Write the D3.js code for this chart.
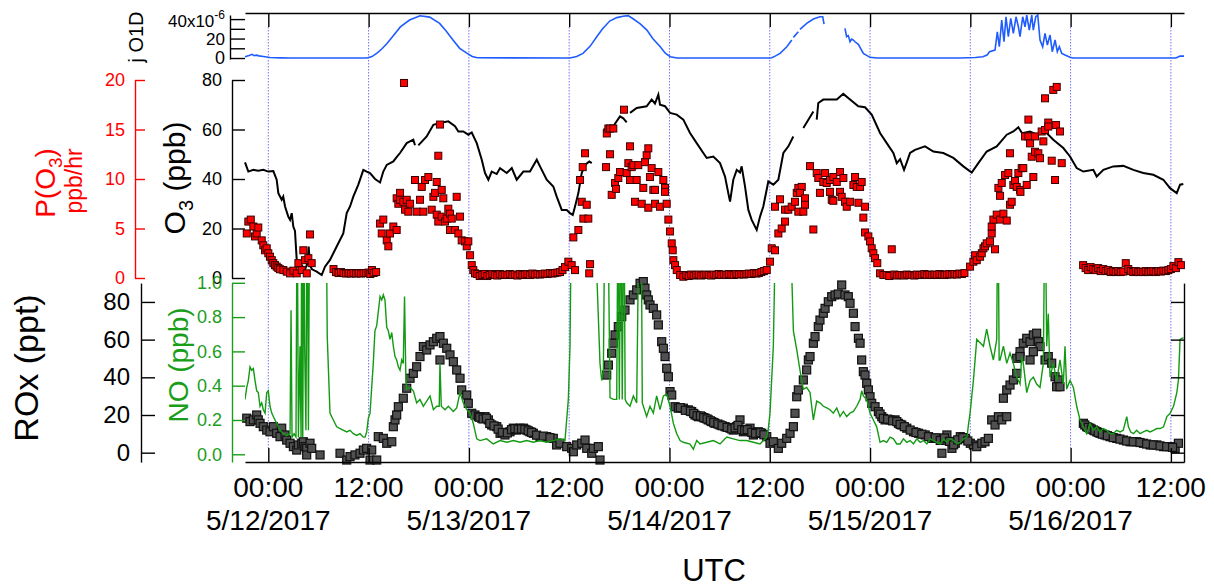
<!DOCTYPE html>
<html>
<head>
<meta charset="utf-8">
<script src="https://cdn.jsdelivr.net/npm/d3@7"></script>
<style>
  body { margin: 0; background: #fff; }
  svg { display: block; }
  text { font-family: "Liberation Sans", Arial, Helvetica, sans-serif; }
</style>
</head>
<body>
<svg id="chart" width="1214" height="587"></svg>
<script>
// Time is given in hours after 5/12/2017 00:00 UTC.

// O(1D) photolysis frequency, units of 1e-6 s-1 (null = missing data)
const jO1D = [
  [-2.79,1.3],[-2.3,2.6],[-1.95,3.8],[-1.7,2.4],[-1.45,3.0],[-1.1,2.2],[-0.6,1.6],[0.2,0.6],[1.5,0.2],[2.6,0],
  [11.8,0],[12.4,1.5],[13.0,5],[13.6,9.5],[14.2,15],[15.0,23.5],[15.8,32],[16.9,39],[18.15,43.4],[19.3,42],
  [20.5,35.6],[21.3,27.5],[22.1,18.5],[22.9,10],[23.8,4.8],[24.4,1.6],[25.0,0.3],[36.1,0],[36.9,1.5],[37.65,4.8],
  [38.5,12],[39.3,21.9],[40.0,30],[40.85,38],[41.7,41.5],[42.45,43],[43.05,43.5],[43.6,40.6],[44.5,35],[45.3,28.7],
  [46.0,20],[46.9,11.6],[47.5,5],[48.1,1.3],[48.9,0],[60.0,0],[60.24,0.3],[60.7,2.2],[61.24,4.8],[62.04,11.6],
  [62.64,18.5],[62.7,null],[62.83,21.2],[63.42,27],[63.5,null],[63.62,29.4],[64.42,35.6],[65.22,40],[66.01,42.4],
  [66.34,42.4],[66.5,34.9],[67.0,null],[69.0,30.4],[69.2,21.9],[69.4,23],[69.61,16.7],[69.8,19.5],[70.01,18.5],
  [70.2,16.7],[70.6,14],[71.2,4.8],[72.0,0.7],[72.8,0],[82.8,0],[84.6,0.5],[85.5,1.3],[86.0,3],[86.3,6.5],
  [86.96,8.2],[87.23,27],[87.47,11.6],[87.76,39],[88.03,16.7],[88.27,42.4],[88.55,21.9],[88.84,40.7],[89.15,25.3],
  [89.47,42.4],[89.75,32.1],[89.95,21.9],[90.27,42.4],[90.55,32.1],[90.75,44.1],[91.06,28.7],[91.35,44.1],
  [91.54,28.7],[91.83,42.4],[92.07,44.1],[92.34,18.5],[92.66,11.6],[92.94,25.3],[93.22,13.3],[93.54,23.6],
  [93.81,6.5],[94.14,18.5],[94.41,6.5],[94.65,11.6],[94.94,4.8],[95.33,3.1],[95.93,0.7],[96.3,0],[108.6,0],
  [109.1,2],[109.57,2]
];

// Ozone mixing ratio, ppb
const ozone = [
  [-2.79,46.7],[-2.39,43],[-1.79,43.7],[-1.2,43.3],[-0.6,43.7],[0,43],[0.6,43.2],[1.0,39.7],[1.2,34.3],[1.6,31.6],
  [1.79,32.9],[2.0,28.9],[2.39,24.8],[2.6,23.5],[2.8,26.2],[2.99,20.8],[3.19,19],[3.4,7.3],[3.59,4.6],[3.91,5.5],
  [4.39,3.5],[4.69,6],[4.83,12.7],[4.99,5],[5.23,3.5],[5.79,2.6],[6.39,1.2],[6.78,4.6],[7.38,7.3],[8.18,12.7],
  [8.97,18],[9.38,26.2],[9.78,28.9],[10.17,32.9],[10.77,37.7],[11.37,43.7],[11.77,43],[12.17,42.4],[12.77,40],
  [13.37,38.6],[13.76,43],[14.17,45.7],[14.96,47.1],[15.4,49],[15.76,50.5],[16.56,54.5],[17.35,55.9],[17.55,53.6],
  [17.75,null],[17.95,53.6],[18.95,57.2],[19.75,61.9],[20.54,62.6],[21.54,63.3],[22.34,61.3],[22.74,59.2],
  [23.33,59.2],[23.93,57.9],[24.34,58.8],[24.94,54.5],[25.54,47.8],[25.93,42.4],[26.33,39.7],[26.73,43],[27.33,42],
  [27.73,44.4],[28.53,42.4],[29.13,44.4],[29.72,39.7],[30.52,43],[31.31,43],[32.12,47.8],[32.51,45.1],[33.31,39.7],
  [34.1,37],[34.51,32.9],[35.11,27.5],[35.71,27.5],[36.1,26.2],[36.43,25.5],[36.7,28.9],[37.1,34.3],[37.5,42.4],
  [37.9,45.7],[38.41,47.1],[38.7,46.4],[39.4,null],[40.09,59.9],[40.69,60.6],[41.28,61.3],[42.08,65.3],[42.48,64.5],
  [42.88,62.9],[43.1,null],[43.28,66.7],[44.08,68.7],[45.27,69.4],[45.87,72.1],[46.27,70.5],[46.67,74.1],[46.87,70],
  [47.47,69.4],[48.07,66.7],[48.87,66],[49.66,64],[50.46,58.6],[51.26,54.5],[52.05,50.5],[52.46,48.5],[53.25,49.1],
  [54.05,46.4],[54.65,41],[55.04,34.3],[55.25,30.9],[55.64,39.7],[56.05,43.7],[56.44,42.6],[56.64,45.1],[57.04,37],
  [57.44,27.5],[57.84,23.5],[58.44,19.4],[58.84,24.8],[59.23,28.9],[59.83,39],[60.43,37.7],[61.03,39.7],
  [61.63,50.5],[62.23,53.2],[62.82,57.2],[63.4,null],[64.02,60.6],[65.22,67.3],[65.4,null],[65.62,64],[65.81,70.7],
  [66.41,72.1],[67.01,72.1],[68.02,72.1],[68.8,74.4],[69.61,72.1],[70.6,69.4],[71.4,69],[72.2,66],[73.2,58.6],
  [74.0,54.5],[74.79,50.5],[75.2,46.4],[75.6,48],[76.07,43.7],[76.43,47],[76.79,50.5],[77.38,51.8],[78.58,53.2],
  [79.58,51.1],[80.77,50.5],[81.97,48.5],[83.17,45.1],[84.17,42.6],[84.96,46.4],[85.96,51.1],[87.16,53.2],
  [88.36,57.9],[89.15,59.2],[89.75,60.9],[90.19,58.5],[91.15,59.2],[91.95,57.9],[93.14,58.6],[93.93,55.9],
  [95.13,52.5],[95.93,49.1],[96.73,44.4],[97.52,43],[98.72,43.7],[99.12,41],[99.92,43.7],[101.11,45.1],
  [102.31,45.3],[103.51,43.7],[104.7,42.4],[105.9,41.7],[107.1,39.7],[107.9,36.3],[108.7,34.3],[109.1,37.7],
  [109.49,38]
];

// Ozone production rate P(O3), ppb/hr
const pO3 = [
  [-2.58,4.5],[-2.39,5.7],[-2.1,5.9],[-1.79,5.2],[-1.59,4.2],[-1.39,4.5],[-1.2,5.1],[-0.79,3.8],[-0.6,3.3],
  [-0.39,2.8],[-0.19,3.0],[0,2.5],[0.2,2.15],[0.41,1.8],[0.6,1.5],[0.8,1.3],[1.0,1.15],[1.2,1.0],[1.4,0.88],
  [1.8,0.8],[2.2,0.64],[2.6,0.47],[3.0,0.74],[3.4,0.47],[3.6,1.5],[4.0,0.8],[4.19,2.8],[4.39,1.8],[4.6,0.47],
  [4.79,2.0],[4.99,4.4],[5.19,1.5],
  [7.8,0.9],[8.1,0.6],[8.4,0.5],[8.7,0.6],[9.0,0.5],[9.3,0.45],[9.6,0.5],[9.9,0.45],[10.2,0.5],[10.5,0.45],
  [10.8,0.5],[11.1,0.45],[11.4,0.5],[11.7,0.5],[12.0,0.55],[12.2,0.4],[12.4,0.8],[12.6,0.5],[12.9,0.6],
  [13.37,5.5],[13.57,4.5],[13.76,5.9],[14.17,3.8],[14.36,3.2],[14.56,4.5],[14.96,5.2],[15.36,4.85],[15.36,8.05],
  [15.56,7.5],[15.76,8.6],[15.76,7.9],[16.15,7.7],[16.24,19.7],[16.36,6.9],[16.56,7.9],[16.75,6.7],[16.96,7.5],
  [17.55,9.9],[17.75,6.7],[18.15,7.9],[18.36,9.2],[18.55,6.7],[18.75,9.9],[19.15,10.2],[19.55,6.9],[19.75,8.2],
  [19.95,8.6],[20.15,9.7],[20.15,6.4],[20.34,12.35],[20.34,5.7],[20.54,15.5],[20.75,8.9],[20.75,6.2],[20.94,8.05],
  [21.14,5.7],[21.35,6.0],[21.54,7.0],[21.74,6.5],[21.74,4.85],[21.95,6.0],[22.34,4.85],[22.54,8.2],[22.74,4.5],
  [22.94,6.2],[23.14,3.8],[23.54,3.7],[23.74,3.2],[23.93,3.7],[24.14,2.3],[24.34,1.3],[24.53,0.8],[24.73,0.47],
  [25.0,0.4],[25.3,0.2],[25.6,0.3],[25.9,0.4],[26.2,0.2],[26.5,0.3],[26.8,0.4],[27.1,0.3],[27.4,0.25],[27.7,0.4],
  [28.0,0.3],[28.3,0.35],[28.6,0.3],[28.9,0.4],[29.2,0.3],[29.5,0.35],[29.8,0.25],[30.1,0.4],[30.4,0.3],
  [30.7,0.35],[31.0,0.4],[31.3,0.3],[31.6,0.45],[31.9,0.35],[32.2,0.4],[32.5,0.35],[32.8,0.4],[33.1,0.45],
  [33.4,0.4],[33.7,0.5],[34.0,0.45],[34.3,0.5],[34.6,0.55],[34.9,0.6],[35.2,0.8],[35.5,1.1],[35.9,1.65],
  [36.3,1.3],[36.7,0.8],
  [36.5,4.1],[37.1,4.85],[37.3,9.9],[37.5,7.7],[37.62,11.2],[37.7,6.0],[37.9,12.6],[38.1,7.4],[38.29,6.0],
  [38.4,0.47],[38.5,1.4],
  [40.41,11.2],[40.5,14.6],[40.69,15.1],[40.89,15.1],[40.89,12.5],[41.09,8.4],[41.28,15.1],[41.49,9.6],[41.6,9.0],
  [41.88,10.1],[42.08,10.7],[42.56,17.0],[42.88,10.6],[43.08,11.6],[43.28,13.3],[43.28,9.9],[43.48,11.2],
  [43.68,11.4],[43.88,7.7],[44.08,9.9],[44.27,11.4],[44.68,7.5],[44.87,9.1],[45.07,11.7],[45.27,12.4],[45.47,13.1],
  [45.47,7.1],[45.67,10.2],[45.87,11.1],[46.07,8.9],[46.27,8.9],[46.27,7.5],[46.67,10.7],[46.87,7.2],[47.27,9.9],
  [47.47,9.1],[47.47,8.7],[47.67,7.5],[47.87,5.9],[48.07,4.7],[48.27,3.5],[48.39,2.8],[48.47,1.8],[48.67,1.3],
  [48.87,0.8],[49.27,0.3],[49.66,0.13],
  [50.0,0.3],[50.3,0.2],[50.6,0.35],[50.9,0.25],[51.2,0.3],[51.5,0.35],[51.8,0.25],[52.1,0.3],[52.4,0.35],
  [52.7,0.3],[53.0,0.25],[53.3,0.35],[53.6,0.3],[53.9,0.4],[54.2,0.3],[54.5,0.35],[54.8,0.3],[55.1,0.4],
  [55.4,0.35],[55.7,0.3],[56.0,0.4],[56.3,0.35],[56.6,0.4],[56.9,0.35],[57.2,0.4],[57.5,0.45],[57.8,0.4],
  [58.1,0.5],[58.4,0.45],[58.7,0.5],[59.0,0.6],[59.3,0.7],
  [59.64,0.8],[60.03,1.65],[60.24,3.0],[60.63,2.8],[61.03,4.5],[61.43,5.0],[61.83,5.7],[60.63,7.2],[61.23,7.95],
  [61.83,6.9],[62.22,6.9],[62.63,7.2],[63.02,7.7],[63.23,8.6],[63.42,9.1],[63.42,6.7],
  [63.83,9.2],[63.62,8.6],[64.22,8.05],[64.22,7.4],[64.02,6.7],[65.22,4.9],[64.82,11.3],[65.62,10.6],[65.81,10.1],
  [66.41,9.7],[66.62,10.6],[66.82,9.6],[67.21,9.9],[67.61,10.2],[68.02,9.7],[68.41,10.7],[68.81,10.1],[66.01,8.6],
  [67.21,8.7],[67.42,7.9],[67.61,7.8],[68.41,8.7],[68.61,8.2],[69.01,7.7],[69.21,7.2],[69.61,7.7],[70.01,9.4],
  [70.21,10.2],[70.41,9.2],[70.81,9.2],[71.0,9.7],[70.61,7.6],[71.4,7.2],[71.2,6.1],
  [71.4,4.6],[71.8,4.2],[72.0,3.7],[72.2,3.0],[72.4,2.5],[72.6,2.0],[72.87,1.5],[73.2,0.47],[73.6,0.3],[74.6,2.9],
  [74.0,0.3],[74.3,0.2],[74.9,0.35],[75.2,0.25],[75.5,0.3],[75.8,0.3],[76.1,0.25],[76.4,0.35],[76.7,0.3],
  [77.0,0.3],[77.3,0.25],[77.6,0.35],[77.9,0.3],[78.2,0.3],[78.5,0.4],[78.8,0.3],[79.1,0.35],[79.4,0.3],
  [79.7,0.35],[80.0,0.3],[80.3,0.4],[80.6,0.35],[80.9,0.3],[81.2,0.35],[81.5,0.4],[81.8,0.35],[82.1,0.4],
  [82.4,0.35],[82.7,0.45],[83.0,0.4],[83.3,0.5],
  [83.97,1.15],[84.37,1.65],[84.57,2.3],[84.77,1.8],[85.17,2.15],[85.37,2.5],[85.57,3.0],[85.76,3.2],[85.96,3.5],
  [86.36,3.7],[86.56,4.5],[86.96,2.9],[86.56,5.2],[86.76,5.9],[87.16,6.4],[87.56,5.9],[87.96,6.5],[88.36,5.8],
  [87.56,8.3],[87.36,9.1],[87.76,9.6],[88.16,10.4],[88.55,10.6],[88.75,7.4],[88.95,7.7],[89.15,9.4],[89.35,9.8],
  [89.55,9.2],[89.75,10.6],[89.95,8.9],[90.15,11.1],[90.34,11.1],[90.75,9.4],[90.0,8.7],[88.75,12.6],[91.54,10.2],
  [90.55,14.3],[90.95,14.3],[91.15,13.6],[91.74,14.3],[91.35,12.25],[91.74,12.75],[92.14,12.6],[92.34,12.1],
  [92.74,13.8],[92.54,14.8],[92.94,14.95],[93.33,15.7],[93.33,15.3],[94.26,15.45],[94.73,14.8],[93.74,11.85],
  [94.94,11.6],[94.14,9.9],[90.95,16.0],[92.94,18.15],[93.93,19.0],[94.34,19.3],
  [97.5,1.3],[97.8,1.0],[98.1,0.8],[98.4,1.1],[98.7,0.9],[99.0,0.8],[99.3,1.0],[99.6,0.7],[99.9,0.9],[100.2,0.7],
  [100.5,0.8],[100.8,0.6],[101.1,0.7],[101.4,0.6],[101.7,0.7],[102.0,0.6],[102.3,0.65],[102.6,1.5],[102.9,0.9],
  [103.2,0.7],[103.5,0.6],[103.8,0.7],[104.1,0.6],[104.4,0.65],[104.7,0.6],[105.0,0.7],[105.3,0.6],[105.6,0.65],
  [105.9,0.7],[106.2,0.6],[106.5,0.7],[106.8,0.65],[107.1,0.75],[107.4,0.7],[107.7,0.8],[108.0,0.9],[108.3,1.2],
  [108.6,1.0],[108.9,1.6],[109.2,1.3]
];

// Total peroxy radicals ROx, ppt
const rox = [
  [-2.58,18.3],[-2.19,16.5],[-1.79,17.4],[-1.39,20.0],[-1.2,17.4],[-0.99,15.6],[-0.6,13.8],[-0.19,12.0],[0.2,11.1],
  [0.6,13.8],[1.0,10.3],[1.4,8.5],[1.6,13.0],[2.0,9.4],[2.2,6.7],[2.6,5.0],[3.0,3.2],[3.4,1.4],[3.59,4.1],[4.0,5.0],
  [4.19,5.8],[4.39,3.2],[4.59,2.3],[4.59,-1.2],[4.99,5.0],[5.19,2.3],[6.19,-1.2],[8.58,-0.3],[9.38,-3.9],
  [9.78,-2.1],[10.37,-1.2],[10.97,-0.3],[11.37,1.4],[11.77,2.3],[12.17,-3.9],[12.37,1.4],[12.97,-3.9],[13.16,8.5],
  [13.76,7.6],[14.17,5.0],[14.77,5.8],[14.96,13.8],[15.16,17.4],[15.36,20.0],[15.56,24.4],
  [16.15,28.9],[16.56,34.2],[16.96,39.5],[17.35,42.1],[17.75,45.6],[18.15,51.0],[18.55,56.3],[18.95,54.5],
  [19.35,57.2],[19.75,58.9],[20.15,60.7],[20.54,61.6],[20.54,49.2],[20.94,58.1],[21.35,55.4],[21.74,51.9],
  [22.14,48.3],[22.54,43.9],[22.94,39.5],[23.14,33.3],[23.74,30.6],[23.93,26.2],[24.34,20.9],[24.73,20.0],
  [25.13,19.1],[25.54,18.3],[25.93,19.1],[26.33,17.4],[26.73,14.7],[27.33,13.8],[27.73,10.3],[28.32,9.4],
  [28.92,11.1],[29.32,13.0],[29.72,12.0],[30.12,13.0],[30.52,13.0],[30.92,12.0],[31.31,11.1],[31.71,10.3],
  [32.51,8.5],[33.31,8.5],[34.1,7.6],[34.5,4.1],[34.9,5.0],[35.7,3.2],[36.3,2.3],[36.5,0.5],[36.9,4.1],[37.5,5.0],
  [37.9,6.7],[38.1,2.3],[38.7,-0.3],[38.89,2.3],[39.49,3.2],[39.69,-3.9],
  [25.3,18.8],[25.7,17.9],[26.1,18.3],[26.5,15.5],[27.0,14.2],[27.5,12.5],[28.0,10.8],[28.6,10.5],[29.1,12.2],
  [29.5,12.8],[29.9,12.5],[30.3,12.6],[30.7,12.4],[31.1,11.6],[31.5,10.8],[32.1,9.3],[32.9,8.8],[33.7,8.0],
  [40.49,41.2],[40.69,46.5],[41.09,52.8],[41.28,58.1],[41.49,62.5],[41.88,66.9],[42.29,72.2],[42.68,75.7],
  [43.28,81.1],[43.68,83.7],[44.08,86.4],[44.48,89.9],[44.87,90.8],[45.07,87.3],[45.27,83.7],[45.47,81.1],
  [45.67,78.4],[46.07,76.6],[46.47,73.1],[46.67,67.8],[47.07,58.9],[47.27,55.4],[47.47,51.0],[47.67,44.8],
  [47.87,40.3],[48.07,32.4],[48.27,30.6],[48.67,24.4],[49.06,23.6],[49.66,23.6],[50.26,22.7],[50.66,21.8],
  [51.06,20.0],[51.46,19.1],[51.86,19.1],[52.26,18.3],[52.65,17.4],[53.06,16.5],[53.45,15.6],[54.05,14.7],
  [54.65,13.8],[55.25,13.0],[55.64,12.0],[56.04,13.8],[56.44,17.4],[56.84,11.1],[57.64,13.0],[58.04,9.4],
  [58.63,11.1],[59.04,10.3],[59.64,8.5],[60.03,5.0],[60.43,5.8],[61.03,2.3],[61.43,5.0],[62.03,7.6],[62.43,10.3],
  [62.83,13.8],[63.02,20.9],[63.23,29.7],[63.42,33.3],
  [49.3,23.9],[49.9,22.5],[50.5,22.0],[50.9,20.8],[51.3,19.6],[51.7,19.5],[52.1,18.6],[52.5,17.9],[52.9,16.9],
  [53.3,16.0],[53.8,15.2],[54.3,14.3],[54.9,13.4],[55.45,12.6],[55.85,13.2],[56.2,14.5],[56.65,12.2],[57.0,11.8],
  [57.3,12.2],[57.85,10.8],[58.3,10.2],[58.85,10.6],[59.3,9.5],
  [64.02,38.6],[64.42,43.9],[64.62,49.2],[64.82,51.0],[65.22,58.1],[65.42,61.6],[65.81,66.9],[66.01,70.4],
  [66.41,74.0],[66.62,76.6],[67.01,80.1],[67.41,82.8],[67.81,83.7],[68.2,84.2],[68.61,89.0],[69.0,83.7],
  [69.4,82.8],[69.61,79.3],[70.01,74.0],[70.21,66.9],[70.61,60.7],[70.81,58.1],[71.0,49.2],[71.2,43.0],[71.4,41.2],
  [71.6,36.8],[71.8,33.3],[72.0,29.7],[72.2,26.2],[72.6,24.4],[73.0,21.8],[73.4,19.1],[73.8,17.4],[74.4,17.4],
  [75.0,17.4],[75.4,15.6],[75.8,14.7],[76.4,13.0],[77.2,11.1],[77.8,10.3],[78.6,9.4],[79.4,7.6],[80.2,7.6],
  [80.6,-0.3],[81.2,9.4],[81.8,2.3],[82.2,5.0],[82.8,8.5],[83.4,7.6],[84.0,5.0],[84.37,4.1],[84.77,3.2],[85.37,5.0],
  [73.2,20.5],[73.6,18.2],[74.1,17.8],[74.7,16.9],[75.2,16.5],[75.6,15.0],[76.1,13.8],[76.8,12.0],[77.5,10.7],
  [78.2,9.8],[79.0,8.5],[79.8,7.9],[80.4,6.5],[80.9,7.8],[81.5,6.0],[82.0,4.2],[82.5,6.8],[83.1,8.0],[83.7,6.2],
  [85.76,5.8],[86.16,7.6],[86.56,17.4],[86.96,14.7],[87.36,19.1],[87.76,17.4],[88.36,19.1],[87.96,28.9],
  [88.36,33.3],[88.75,35.9],[89.15,38.6],[89.55,42.1],[89.55,50.1],[89.95,53.6],[90.34,58.1],[90.75,60.7],
  [91.15,58.9],[91.54,62.5],[91.94,63.4],[92.14,58.9],[92.34,56.3],[91.54,53.6],[91.15,49.2],[89.95,51.0],
  [92.94,49.2],[93.33,51.0],[93.74,47.5],[94.14,40.3],[94.53,38.6],[94.33,35.0],[94.73,35.0],
  [97.53,15.6],[97.93,13.8],[98.33,13.0],[98.73,12.0],[99.13,11.1],[99.52,10.3],[100.12,9.4],[100.72,8.5],
  [101.52,7.6],[102.32,6.7],[103.12,5.8],[103.92,5.8],[104.72,5.0],[105.52,4.1],[106.32,4.1],[107.12,3.2],
  [107.92,3.2],[108.51,2.3],[108.9,5.0],
  [97.7,14.7],[98.1,13.4],[98.5,12.5],[98.9,11.6],[99.3,10.7],[99.8,9.8],[100.4,9.0],[101.1,8.0],[101.9,7.2],
  [102.7,6.2],[103.5,5.8],[104.3,5.4],[105.1,4.6],[105.9,4.1],[106.7,3.6],[107.5,3.2],[108.2,2.8]
];

// Nitric oxide, ppb (values above 1 run off the top of the axis)
const no = [
  [-2.79,0.32],[-2.58,0.39],[-2.39,0.43],[-2.19,0.51],[-1.99,0.49],[-1.79,0.50],[-1.59,0.43],[-1.39,0.37],
  [-1.2,0.36],[-0.99,0.28],[-0.79,0.30],[-0.6,0.26],[-0.39,0.24],[-0.19,0.36],[0,0.37],[0.2,0.28],[0.41,0.24],
  [0.6,0.22],[1.0,0.18],[1.4,0.14],[1.8,0.12],[2.2,0.11],[2.6,0.12],[2.72,0.84],[2.84,0.10],[3.08,0.12],
  [3.31,0.10],[3.45,1.6],[3.6,0.10],[3.79,0.63],[3.92,0.10],[4.0,1.6],[4.12,0.10],[4.27,1.6],[4.35,0.63],
  [4.5,0.14],[4.65,1.6],[4.8,0.14],[4.95,1.6],[6.9,1.6],[7.05,0.69],[7.38,0.24],[7.78,0.20],[8.18,0.16],
  [8.58,0.15],[9.38,0.13],[9.78,0.14],[10.17,0.12],[10.58,0.11],[10.97,0.12],[11.37,0.10],[11.57,0.10],
  [11.77,0.13],[11.97,0.21],[12.17,0.24],[12.56,0.53],[12.76,0.72],[12.97,0.75],[13.37,0.92],[13.57,0.90],
  [13.76,0.93],[13.96,0.90],[14.17,0.74],[14.36,0.72],[14.56,0.67],[14.77,0.71],[14.96,0.63],[15.16,0.57],
  [15.36,0.55],[15.56,0.51],[15.76,0.49],[15.96,0.55],[16.15,0.53],[16.3,0.92],[16.45,0.47],[16.56,0.38],
  [16.96,0.39],[17.35,0.37],[17.75,0.30],[18.15,0.32],[18.55,0.28],[18.95,0.31],[19.35,0.34],[19.75,0.26],
  [20.15,0.28],[20.45,0.28],[20.54,0.53],[20.7,0.28],[21.14,0.26],[21.54,0.28],[22.14,0.25],[22.54,0.27],
  [22.94,0.36],[23.33,0.30],[23.74,0.26],[24.14,0.24],[24.53,0.18],[24.94,0.09],[25.33,0.08],[26.13,0.09],
  [26.92,0.06],[27.73,0.08],[28.53,0.07],[29.32,0.08],[30.12,0.07],[30.92,0.08],[31.71,0.07],[32.51,0.08],
  [33.31,0.07],[34.1,0.08],[34.9,0.09],[35.5,0.08],[35.9,0.32],[36.1,0.63],[36.3,1.6],[38.9,1.6],[39.69,0.53],
  [39.89,0.43],[40.09,0.49],[40.3,1.6],[40.6,1.6],[40.89,0.33],[41.28,0.32],[41.69,0.32],[41.85,1.6],[42.0,0.32],
  [42.2,1.6],[42.35,0.32],[42.55,1.6],[42.7,0.32],[42.88,0.30],[43.28,0.28],[43.68,0.34],[44.08,0.30],[44.4,1.6],
  [44.6,1.6],[44.75,0.30],[45.27,0.22],[45.67,0.28],[46.07,0.24],[46.47,0.34],[46.87,0.26],[47.27,0.34],
  [47.67,0.35],[48.07,0.28],[48.47,0.18],[48.87,0.12],[49.27,0.08],[49.66,0.07],[50.46,0.06],[50.86,0.03],
  [51.26,0.08],[51.66,0.06],[52.46,0.07],[53.26,0.08],[54.05,0.06],[54.85,0.10],[55.64,0.09],[56.44,0.08],
  [57.24,0.08],[58.04,0.07],[58.83,0.06],[59.64,0.10],[59.83,0.15],[60.03,0.24],[60.43,0.63],[60.8,1.6],
  [62.3,1.6],[62.83,0.72],[63.23,0.61],[63.62,0.49],[63.83,0.43],[64.02,0.38],[64.42,0.39],[64.82,0.36],
  [65.22,0.20],[65.62,0.31],[66.01,0.30],[66.41,0.28],[66.82,0.27],[67.21,0.26],[67.61,0.24],[68.02,0.27],
  [68.41,0.22],[68.81,0.25],[69.21,0.22],[69.61,0.24],[70.01,0.25],[70.41,0.28],[70.81,0.32],[71.0,0.37],
  [71.2,0.34],[71.6,0.32],[72.0,0.24],[72.4,0.20],[72.8,0.16],[73.2,0.07],[73.6,0.08],[74.0,0.07],[74.4,0.10],
  [74.8,0.09],[75.2,0.06],[75.6,0.06],[76.0,0.09],[76.4,0.07],[76.8,0.08],[77.2,0.06],[77.6,0.09],[78.0,0.07],
  [78.4,0.08],[78.8,0.06],[79.2,0.09],[79.6,0.08],[80.0,0.07],[80.4,0.06],[80.8,0.09],[81.2,0.07],[81.6,0.09],
  [82.0,0.08],[82.4,0.06],[82.8,0.07],[83.2,0.09],[83.6,0.10],[83.8,0.18],[83.97,0.24],[84.37,0.43],[84.77,0.67],
  [85.17,0.65],[85.57,0.63],[85.96,0.73],[86.36,0.63],[86.76,0.55],[87.16,0.67],[87.3,1.6],[87.45,0.55],
  [87.56,0.55],[87.96,0.63],[88.36,0.53],[88.75,0.59],[89.15,0.53],[89.55,0.45],[89.95,0.41],[90.15,0.57],
  [90.34,0.53],[90.75,0.36],[91.15,0.43],[91.54,0.45],[91.94,0.41],[92.34,0.39],[92.74,0.53],[92.94,1.6],
  [93.14,0.63],[93.33,0.82],[93.54,0.45],[93.93,0.53],[94.34,0.43],[94.73,0.55],[95.13,0.41],[95.33,0.63],
  [95.53,0.38],[95.93,0.43],[96.33,0.39],[96.73,0.28],[97.13,0.20],[97.53,0.16],[97.93,0.12],[98.33,0.18],
  [98.73,0.14],[99.13,0.16],[99.52,0.13],[99.9,0.15],[100.32,0.14],[100.7,0.12],[101.12,0.12],[101.5,0.14],
  [101.92,0.13],[102.3,0.14],[102.72,0.22],[102.92,0.16],[103.2,0.13],[103.52,0.12],[103.9,0.14],[104.32,0.12],
  [104.7,0.13],[105.12,0.14],[105.5,0.13],[105.92,0.14],[106.3,0.15],[106.72,0.15],[107.12,0.16],[107.52,0.22],
  [107.92,0.24],[108.32,0.28],[108.71,0.36],[108.9,0.43],[109.1,0.67],[109.5,0.68]
];

// Axis tick values
const jTicks = [0, 10, 20, 30, 40];
const o3Ticks = [0, 20, 40, 60, 80];
const pTicks = [0, 5, 10, 15, 20];
const roxTicks = [0, 20, 40, 60, 80];
const noTicks = [0, 0.2, 0.4, 0.6, 0.8, 1.0];

const svg = d3.select("#chart");
svg.append("rect").attr("width", 1214).attr("height", 587).attr("fill", "#fff");

const base = Date.UTC(2017, 4, 12);
const at = h => new Date(base + h * 3600e3);

const x = d3.scaleUtc().domain([at(-2.79), at(109.57)]).range([245, 1184]);
const tickDates = x.ticks(d3.utcHour.every(12));

const yJ = d3.scaleLinear().domain([-1, 44.2]).range([59, 15]);
const yO3 = d3.scaleLinear().domain([0, 80]).range([278, 80]);
const yP = d3.scaleLinear().domain([0, 20]).range([278, 80]);
const yR = d3.scaleLinear().domain([-5, 90]).range([462.1, 283.1]);
const yNO = d3.scaleLinear().domain([-0.045, 1.0]).range([462, 282.8]);

const defs = svg.append("defs");
defs.append("clipPath").attr("id", "clipBottom")
  .append("rect").attr("x", 245).attr("y", 283).attr("width", 939).attr("height", 179);

// dotted day/night guide lines
svg.append("g").selectAll("line").data(tickDates).join("line")
  .attr("x1", d => x(d)).attr("x2", d => x(d))
  .attr("y1", 27).attr("y2", 448)
  .attr("stroke", "#7373ff").attr("stroke-width", 1).attr("stroke-dasharray", "1.5,1.5");

// top panel: j(O1D)
const lineJ = d3.line().defined(d => d[1] !== null).x(d => x(at(d[0]))).y(d => yJ(d[1]));
svg.append("path").datum(jO1D).attr("d", lineJ)
  .attr("fill", "none").attr("stroke", "#1f5cff").attr("stroke-width", 1.6);

// middle panel: O3 line and P(O3) markers
const lineO3 = d3.line().defined(d => d[1] !== null).x(d => x(at(d[0]))).y(d => yO3(d[1]));
svg.append("path").datum(ozone).attr("d", lineO3)
  .attr("fill", "none").attr("stroke", "#000").attr("stroke-width", 2);

const sP = 7;
svg.append("g").selectAll("rect").data(pO3).join("rect")
  .attr("x", d => x(at(d[0])) - sP / 2).attr("y", d => yP(d[1]) - sP / 2)
  .attr("width", sP).attr("height", sP)
  .attr("fill", "#ff0000").attr("stroke", "#3a0000").attr("stroke-width", 1);

// bottom panel: ROx markers and NO line
const sR = 8;
svg.append("g").selectAll("rect").data(rox).join("rect")
  .attr("x", d => x(at(d[0])) - sR / 2).attr("y", d => yR(d[1]) - sR / 2)
  .attr("width", sR).attr("height", sR)
  .attr("fill", "#505050").attr("stroke", "#111").attr("stroke-width", 1.2);

const lineNO = d3.line().x(d => x(at(d[0]))).y(d => yNO(d[1]));
svg.append("path").datum(no).attr("d", lineNO).attr("clip-path", "url(#clipBottom)")
  .attr("fill", "none").attr("stroke", "#139a13").attr("stroke-width", 1.4);

// axes
function styleAxis(g, color, size) {
  g.attr("color", color).attr("font-size", size)
   .attr("font-family", '"Liberation Sans", Arial, Helvetica, sans-serif');
  g.selectAll("path, line").attr("stroke-width", 1.4);
  return g;
}

styleAxis(svg.append("g").attr("transform", "translate(0,13)")
  .call(d3.axisTop(x).tickValues(tickDates).tickSize(-14).tickSizeOuter(0).tickFormat("")), "#000", 18);

styleAxis(svg.append("g").attr("transform", "translate(0,462)")
  .call(d3.axisBottom(x).tickValues(tickDates).tickSize(-14).tickSizeOuter(0).tickFormat("")), "#000", 18);

// j(O1D) axis; the top label carries the 1e-6 multiplier
const gJ = styleAxis(svg.append("g").attr("transform", "translate(230,0)")
  .call(d3.axisLeft(yJ).tickValues(jTicks).tickSize(-15).tickSizeOuter(0).tickPadding(5)
    .tickFormat(d => d % 20 === 0 ? String(d) : "")), "#000", 18);
gJ.selectAll(".tick text").filter(d => d === 20).attr("font-size", 17);
gJ.selectAll(".tick text").filter(d => d === 40).each(function () {
  const t = d3.select(this).text("").attr("dy", "0.42em").attr("font-size", 17);
  t.append("tspan").text("40x10");
  t.append("tspan").attr("dy", "-0.62em").attr("font-size", 12).text("-6");
});

styleAxis(svg.append("g").attr("transform", "translate(232,0)")
  .call(d3.axisLeft(yO3).tickValues(o3Ticks).tickSize(-13).tickSizeOuter(0).tickPadding(10)), "#000", 18);

styleAxis(svg.append("g").attr("transform", "translate(135,0)")
  .call(d3.axisLeft(yP).tickValues(pTicks).tickSize(-10).tickSizeOuter(0).tickPadding(10)), "#ff0000", 18);

styleAxis(svg.append("g").attr("transform", "translate(141,0)")
  .call(d3.axisLeft(yR).tickValues(roxTicks).tickSize(-14).tickSizeOuter(0).tickPadding(11)), "#000", 24);

styleAxis(svg.append("g").attr("transform", "translate(1184,0)")
  .call(d3.axisRight(yR).tickValues(roxTicks).tickSize(-13).tickSizeOuter(0).tickFormat("")), "#000", 18);

styleAxis(svg.append("g").attr("transform", "translate(232,0)")
  .call(d3.axisLeft(yNO).tickValues(noTicks).tickSize(-13).tickSizeOuter(0).tickPadding(10)
    .tickFormat(d3.format(".1f"))), "#1a9e1a", 18);

// time labels under the bottom axis
const fmtTime = d3.utcFormat("%H:%M");
const fmtDate = d3.utcFormat("%-m/%-d/%Y");
const xl = svg.append("g").attr("font-size", 28).attr("text-anchor", "middle").attr("fill", "#000");
xl.selectAll("text.time").data(tickDates).join("text").attr("class", "time")
  .attr("x", d => x(d)).attr("y", 497).text(fmtTime);
xl.selectAll("text.date").data(tickDates.filter(d => d.getUTCHours() === 0)).join("text").attr("class", "date")
  .attr("x", d => x(d)).attr("y", 530).text(fmtDate);

svg.append("text").attr("x", 714).attr("y", 581).attr("text-anchor", "middle")
  .attr("font-size", 31).text("UTC");

// axis titles
function vTitle(xp, yp, size, color) {
  return svg.append("text").attr("transform", `translate(${xp},${yp}) rotate(-90)`)
    .attr("text-anchor", "middle").attr("font-size", size).attr("fill", color);
}
vTitle(143, 37, 20, "#000").text("j O1D");

const tP = vTitle(55, 183, 28, "#ff0000");
tP.append("tspan").text("P(O");
tP.append("tspan").attr("font-size", 19).attr("dy", 7).text("3");
tP.append("tspan").attr("dy", -7).text(")");

vTitle(82, 181, 23, "#ff0000").text("ppb/hr");

const tO = vTitle(185, 178, 30, "#000");
tO.append("tspan").text("O");
tO.append("tspan").attr("font-size", 20).attr("dy", 8).text("3");
tO.append("tspan").attr("dy", -8).text(" (ppb)");

vTitle(38, 368, 34, "#000").text("ROx (ppt)");
vTitle(188, 365, 28, "#1a9e1a").text("NO (ppb)");
</script>
</body>
</html>
